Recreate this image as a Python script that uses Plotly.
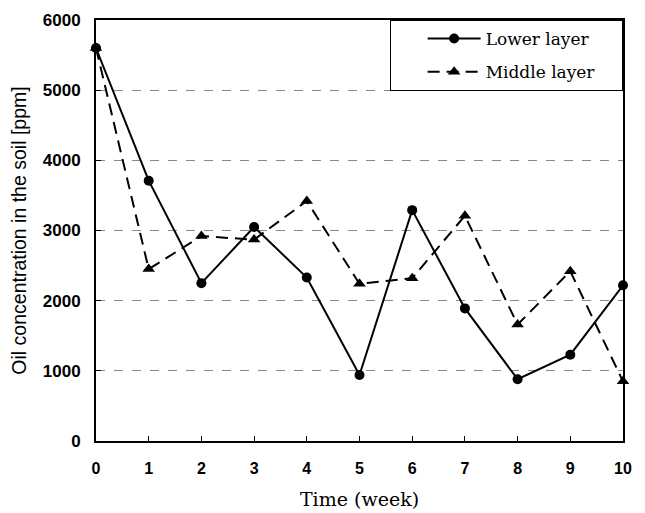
import plotly.graph_objects as go

weeks = [0, 1, 2, 3, 4, 5, 6, 7, 8, 9, 10]
lower_layer = [5600, 3710, 2250, 3050, 2330, 940, 3290, 1890, 880, 1230, 2220]
middle_layer = [5600, 2450, 2920, 2870, 3420, 2240, 2320, 3210, 1660, 2420, 850]
y_ticks = [0, 1000, 2000, 3000, 4000, 5000, 6000]
series_names = ["Lower layer", "Middle layer"]

pad = "&nbsp;" * 4  # invisible right padding inside the legend box

fig = go.Figure()
fig.add_trace(go.Scatter(
    x=weeks, y=lower_layer, name=series_names[0] + pad, mode="lines+markers",
    legendgroup="a",
    line=dict(color="black", width=2, dash="solid"),
    marker=dict(symbol="circle", size=10, color="black"),
    cliponaxis=False,
))
fig.add_trace(go.Scatter(
    x=weeks, y=middle_layer, name=series_names[1] + pad, mode="lines+markers",
    legendgroup="b",
    line=dict(color="black", width=2, dash="12px,7px"),
    marker=dict(symbol="triangle-up", size=11, color="black"),
    cliponaxis=False,
))

# the page body adds an 8px offset, so the figure is sized to compensate
fig.update_layout(
    width=637, height=505,
    margin=dict(l=88, r=22, t=12, b=72),
    paper_bgcolor="white", plot_bgcolor="white",
    showlegend=True,
    legend=dict(
        x=1, y=1, xanchor="right", yanchor="top",
        bgcolor="white", bordercolor="black", borderwidth=1,
        font=dict(family="DejaVu Serif", size=17, color="black"),
        tracegroupgap=8, itemwidth=53,
        title=dict(text="&nbsp;" * 4, side="left",
                   font=dict(family="DejaVu Serif", size=17)),
    ),
    xaxis=dict(
        range=[0, 10], tickvals=weeks, ticks="inside", ticklen=5,
        tickcolor="black", showgrid=False, zeroline=False,
        showline=True, linecolor="black", linewidth=2, mirror=True,
        ticklabelstandoff=12, automargin=False,
        tickfont=dict(family="Liberation Sans", size=16, color="black", weight="bold"),
        title=dict(text="Time (week)", standoff=16,
                   font=dict(family="DejaVu Serif", size=19, color="black")),
    ),
    yaxis=dict(
        range=[0, 6000], tickvals=y_ticks, ticks="inside", ticklen=5,
        tickcolor="black", showgrid=True, gridcolor="#888888", gridwidth=1,
        griddash="dash", zeroline=False,
        showline=True, linecolor="black", linewidth=2, mirror=True,
        ticklabelstandoff=10, automargin=False,
        tickfont=dict(family="Liberation Sans", size=17, color="black", weight="bold"),
        title=dict(text="Oil concentration in the soil [ppm]", standoff=12,
                   font=dict(family="Liberation Sans", size=19.5, color="black")),
    ),
)

fig.write_html("out.html")
